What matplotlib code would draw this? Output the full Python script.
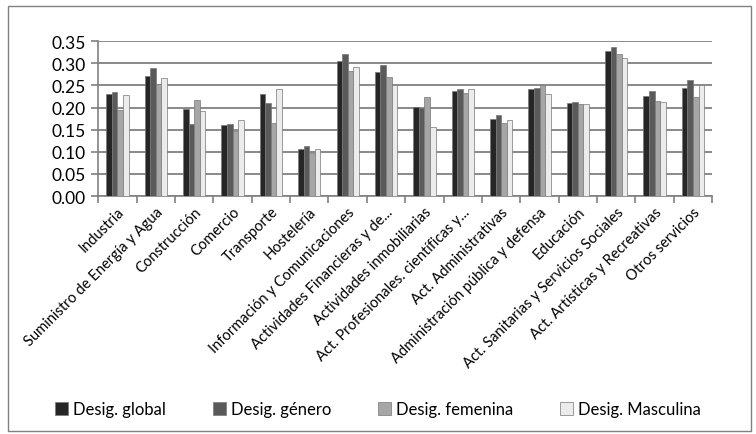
import numpy as np
import matplotlib
matplotlib.use("Agg")
import matplotlib.pyplot as plt
from matplotlib.patches import Rectangle
from matplotlib.transforms import ScaledTranslation

plt.rcParams["font.family"] = ["Lato", "DejaVu Sans"]

sectores = [
    "Industria", "Suministro de Energía y Agua", "Construcción", "Comercio",
    "Transporte", "Hostelería", "Información y Comunicaciones",
    "Actividades Financieras y de...", "Actividades inmobiliarias",
    "Act. Profesionales. científicas y...", "Act. Administrativas",
    "Administración pública y defensa", "Educación",
    "Act. Sanitarias y Servicios Sociales", "Act. Artísticas y Recreativas",
    "Otros servicios",
]

desig_global = [0.230, 0.272, 0.196, 0.160, 0.230, 0.106, 0.305, 0.280,
                0.201, 0.238, 0.175, 0.243, 0.210, 0.327, 0.226, 0.245]
desig_genero = [0.236, 0.290, 0.163, 0.162, 0.210, 0.114, 0.320, 0.297,
                0.200, 0.241, 0.183, 0.245, 0.212, 0.337, 0.237, 0.263]
desig_femenina = [0.195, 0.253, 0.216, 0.146, 0.164, 0.097, 0.282, 0.268,
                  0.223, 0.232, 0.165, 0.250, 0.207, 0.322, 0.214, 0.225]
desig_masculina = [0.228, 0.266, 0.193, 0.172, 0.241, 0.106, 0.291, 0.252,
                   0.155, 0.243, 0.171, 0.230, 0.207, 0.312, 0.212, 0.250]

series = [
    ("Desig. global", desig_global, "#262626"),
    ("Desig. género", desig_genero, "#5a5a5a"),
    ("Desig. femenina", desig_femenina, "#a6a6a6"),
    ("Desig. Masculina", desig_masculina, "#ececec"),
]

fig = plt.figure(figsize=(7.56, 4.35), dpi=100, facecolor="white")
ax = fig.add_axes([0.13, 0.547, 0.812, 0.356])

x = np.arange(len(sectores))
w = 0.145
for i, (name, vals, col) in enumerate(series):
    ax.bar(x + (i - 1.5) * w, vals, w, color=col, edgecolor="#777777",
           linewidth=0.5, label=name, zorder=3)

ax.set_xlim(-0.5, len(sectores) - 0.5)
ax.set_ylim(0, 0.35)
ax.set_yticks(np.arange(0, 0.351, 0.05))
ax.set_yticklabels([f"{v:.2f}" for v in np.arange(0, 0.351, 0.05)], fontsize=12.5)
ax.yaxis.grid(True, color="#808080", linewidth=1.3, zorder=0)

ax.set_xticks(x)
ax.set_xticklabels(sectores, rotation=45, ha="right", rotation_mode="anchor",
                   fontsize=10.5)
# nudge the slanted labels a little left/down
shift = ScaledTranslation(-6 / 100, -2 / 100, fig.dpi_scale_trans)
for lbl in ax.get_xticklabels():
    lbl.set_transform(lbl.get_transform() + shift)
ax.tick_params(axis="x", length=0, pad=6)
ax.set_xticks(np.arange(-0.5, len(sectores)), minor=True)
ax.tick_params(axis="x", which="minor", length=5, color="#808080", width=1.2)
ax.tick_params(axis="y", length=5, color="#808080", width=1.2, pad=4)

for s in ["top", "right"]:
    ax.spines[s].set_visible(False)
ax.spines["left"].set_color("#808080")
ax.spines["left"].set_linewidth(1.2)
ax.spines["bottom"].set_color("#808080")
ax.spines["bottom"].set_linewidth(1.2)

fig.legend(loc="center", bbox_to_anchor=(0.5, 0.057), ncol=4, frameon=False,
           fontsize=12, handlelength=0.8, handleheight=0.8, handletextpad=0.3,
           columnspacing=2.8)

fig.patches.append(Rectangle((0.011, 0.008), 0.982, 0.975, transform=fig.transFigure,
                             fill=False, edgecolor="#808080", linewidth=1.0))

fig.savefig("out.png", dpi=100, facecolor="white")
